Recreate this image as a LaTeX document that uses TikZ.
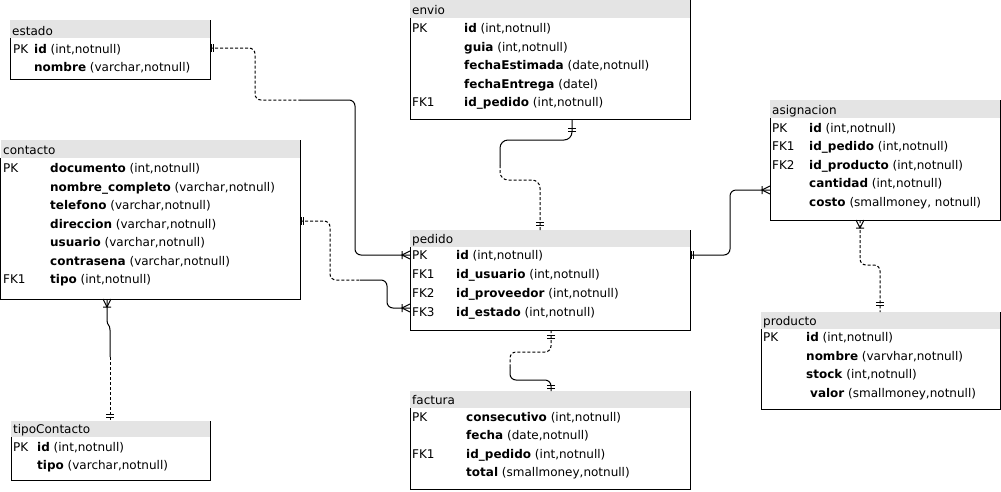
\documentclass[tikz,border=0pt]{standalone}
\usepackage{fontspec}
\setmainfont{DejaVu Sans}
\definecolor{hdr}{HTML}{E4E4E4}
\newcommand\erbox[5]{% left, right, header top, header bottom, bottom
  \fill[hdr] (#1,#3) rectangle (#2,#4);
  \draw[line width=1pt] (#1,#4) -- (#1,#5) -- (#2,#5) -- (#2,#3);
}
\newcommand\erow[6]{\node[txt] (#1) at (#2) {\makebox[#3][l]{#4}\textbf{#5} #6};}
\tikzset{
  txt/.style={anchor=base west, inner sep=0pt, font=\fontsize{12}{14}\selectfont},
  conn/.style={line width=1pt, rounded corners=6pt},
  dsh/.style={conn, dash pattern=on 3pt off 2pt},
  one/.pic={\draw[line width=1pt, solid] (#1,-4) -- (#1,4) (#1+3,-4) -- (#1+3,4);},
  one/.default=5,
  many/.pic={\draw[line width=1pt, solid] (0,4) -- (8,0) -- (0,-4) (8,-4) -- (8,4);}
}
\begin{document}
\begin{tikzpicture}[x=1pt, y=-1pt]
\useasboundingbox (0,0) rectangle (1001,491);
\fill[white] (0,0) rectangle (1001,491);

% ---------- estado ----------
\erbox{10}{210}{20}{38}{79}
\node[txt] (estado-h) at (12,35) {estado};
\erow{estado-1}{13,53}{21pt}{PK}{id}{(int,notnull)}
\erow{estado-2}{13,71}{21pt}{}{nombre}{(varchar,notnull)}

% ---------- contacto ----------
\erbox{0.5}{300}{140}{158}{299}
\node[txt] (contacto-h) at (3,154) {contacto};
\erow{contacto-1}{3,172.5}{47pt}{PK}{documento}{(int,notnull)}
\erow{contacto-2}{3,191}{47pt}{}{nombre\_completo}{(varchar,notnull)}
\erow{contacto-3}{3,209.5}{47pt}{}{telefono}{(varchar,notnull)}
\erow{contacto-4}{3,228}{47pt}{}{direccion}{(varchar,notnull)}
\erow{contacto-5}{3,246.5}{47pt}{}{usuario}{(varchar,notnull)}
\erow{contacto-6}{3,265}{47pt}{}{contrasena}{(varchar,notnull)}
\erow{contacto-7}{3,283.5}{47pt}{FK1}{tipo}{(int,notnull)}

% ---------- tipoContacto ----------
\erbox{11}{210}{421}{437}{480}
\node[txt] (tipo-h) at (13,433) {tipoContacto};
\erow{tipo-1}{13,451}{24pt}{PK}{id}{(int,notnull)}
\erow{tipo-2}{13,469}{24pt}{}{tipo}{(varchar,notnull)}

% ---------- envio ----------
\erbox{410}{690}{-1}{18}{119}
\node[txt] (envio-h) at (412,14) {envio};
\erow{envio-1}{412,32.5}{52pt}{PK}{id}{(int,notnull)}
\erow{envio-2}{412,51}{52pt}{}{guia}{(int,notnull)}
\erow{envio-3}{412,69.5}{52pt}{}{fechaEstimada}{(date,notnull)}
\erow{envio-4}{412,88}{52pt}{}{fechaEntrega}{(datel)}
\erow{envio-5}{412,106.5}{52pt}{FK1}{id\_pedido}{(int,notnull)}

% ---------- pedido ----------
\erbox{410}{690}{230}{247}{330}
\node[txt] (pedido-h) at (412,243) {pedido};
\erow{pedido-1}{412,259.5}{44pt}{PK}{id}{(int,notnull)}
\erow{pedido-2}{412,278.5}{44pt}{FK1}{id\_usuario}{(int,notnull)}
\erow{pedido-3}{412,297.5}{44pt}{FK2}{id\_proveedor}{(int,notnull)}
\erow{pedido-4}{412,316.5}{44pt}{FK3}{id\_estado}{(int,notnull)}

% ---------- factura ----------
\erbox{410}{690}{391}{408}{489}
\node[txt] (factura-h) at (412,404) {factura};
\erow{factura-1}{412,421}{54pt}{PK}{consecutivo}{(int,notnull)}
\erow{factura-2}{412,439.5}{54pt}{}{fecha}{(date,notnull)}
\erow{factura-3}{412,458}{54pt}{FK1}{id\_pedido}{(int,notnull)}
\erow{factura-4}{412,476.5}{54pt}{}{total}{(smallmoney,notnull)}

% ---------- asignacion ----------
\erbox{770}{1000.5}{100}{118}{220}
\node[txt] (asig-h) at (772,114) {asignacion};
\erow{asig-1}{772,132}{37pt}{PK}{id}{(int,notnull)}
\erow{asig-2}{772,150.5}{37pt}{FK1}{id\_pedido}{(int,notnull)}
\erow{asig-3}{772,169}{37pt}{FK2}{id\_producto}{(int,notnull)}
\erow{asig-4}{772,187.5}{37pt}{}{cantidad}{(int,notnull)}
\erow{asig-5}{772,206}{37pt}{}{costo}{(smallmoney, notnull)}

% ---------- producto ----------
\erbox{761}{1000.5}{312}{329}{409}
\node[txt] (prod-h) at (763,325) {producto};
\erow{prod-1}{763,341.5}{43pt}{PK}{id}{(int,notnull)}
\erow{prod-2}{763,360}{43pt}{}{nombre}{(varvhar,notnull)}
\erow{prod-3}{763,378.5}{43pt}{}{stock}{(int,notnull)}
\erow{prod-4}{763,397}{47pt}{}{valor}{(smallmoney,notnull)}

% ---------- connection points ----------
\coordinate (estado-e) at (210,48);
\coordinate (pedido-w1) at (410,255);
\coordinate (contacto-e) at (300,221);
\coordinate (pedido-w2) at (410,308);
\coordinate (envio-s) at (572,119);
\coordinate (pedido-n) at (540,230);
\coordinate (pedido-s) at (551,330);
\coordinate (factura-n) at (551,391);
\coordinate (pedido-e) at (690,255);
\coordinate (asig-w) at (770,190);
\coordinate (asig-s) at (860,220);
\coordinate (prod-n) at (880,312);
\coordinate (contacto-s) at (107,299);
\coordinate (tipo-n) at (110,421);
\coordinate (m1) at (300,100);
\coordinate (m2) at (360,280);
\coordinate (m3) at (500,165);
\coordinate (m4) at (510,367);
\coordinate (m7) at (110,357);

% ---------- connectors ----------
\draw[dsh] (estado-e) -- (255,48) -- (255,100) -- (m1);
\draw[conn] (m1) -- (355,100) -- (355,255) -- (pedido-w1);

\draw[dsh] (contacto-e) -- (330,221) -- (330,280) -- (m2);
\draw[conn] (m2) -- (387,280) -- (387,308) -- (pedido-w2);

\draw[conn, rounded corners=8pt] (envio-s) -- (572,140) -- (500,140) -- (m3);
\draw[dsh, rounded corners=8pt] (m3) -- (500,180) -- (540,180) -- (pedido-n);

\draw[dsh] (pedido-s) -- (551,352) -- (510,352) -- (m4);
\draw[conn] (m4) -- (510,380) -- (551,380) -- (factura-n);

\draw[conn] (pedido-e) -- (730,255) -- (730,190) -- (asig-w);

\draw[dsh] (asig-s) -- (860,265) -- (880,265) -- (prod-n);

\draw[conn, rounded corners=0pt] (contacto-s) -- (107,320) .. controls (107,326) and (110,324) .. (110,330) -- (m7);
\draw[dsh] (m7) -- (tipo-n);

% ---------- markers ----------
\pic at (estado-e) {one};
\pic[rotate=180] at (pedido-w1) {many};
\pic at (contacto-e) {one};
\pic[rotate=180] at (pedido-w2) {many};
\pic[rotate=-90] at (envio-s) {one=9};
\pic[rotate=90] at (pedido-n) {one=5};
\pic[rotate=-90] at (pedido-s) {one=5};
\pic[rotate=90] at (factura-n) {one=3};
\pic at (pedido-e) {one};
\pic[rotate=180] at (asig-w) {many};
\pic[rotate=-90] at (asig-s) {many};
\pic[rotate=90] at (prod-n) {one=7};
\pic[rotate=-90] at (contacto-s) {many};
\pic[rotate=90] at (tipo-n) {one=4};
\end{tikzpicture}
\end{document}
